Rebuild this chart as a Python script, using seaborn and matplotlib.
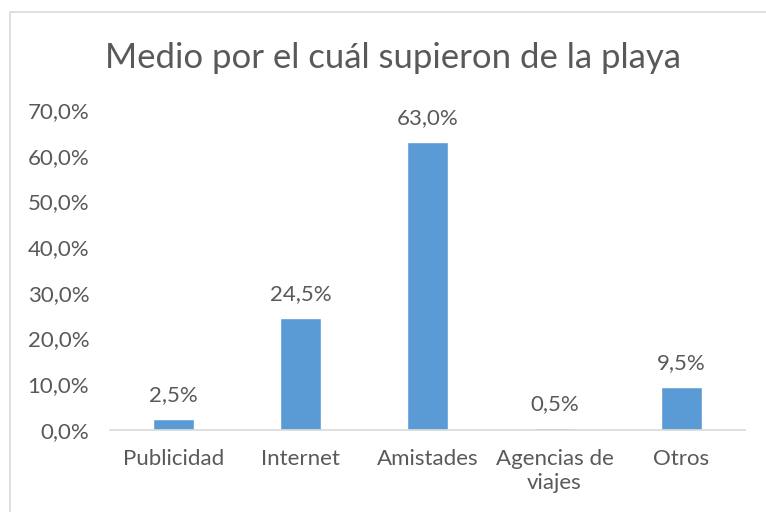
import matplotlib
matplotlib.use("Agg")
import matplotlib.pyplot as plt
import seaborn as sns
import pandas as pd
from matplotlib.patches import Rectangle
from matplotlib.ticker import FuncFormatter

# Data
categorias = ["Publicidad", "Internet", "Amistades", "Agencias de\nviajes", "Otros"]
porcentajes = [0.025, 0.245, 0.630, 0.005, 0.095]
titulo = "Medio por el cuál supieron de la playa"

df = pd.DataFrame({"medio": categorias, "pct": porcentajes})

sns.set_style("white")
plt.rcParams["font.family"] = ["Lato", "DejaVu Sans"]

texto = "#595959"
azul = "#5B9BD5"

fig = plt.figure(figsize=(7.66, 5.12), dpi=100)
ax = fig.add_axes([110 / 766, 82 / 512, 635 / 766, 320 / 512])

sns.barplot(data=df, x="medio", y="pct", color=azul, width=0.315,
            saturation=1, ax=ax)

ax.set_ylim(0, 0.7)
ax.set_yticks([i / 10 for i in range(8)])
ax.yaxis.set_major_formatter(FuncFormatter(lambda v, p: f"{v*100:.1f}%".replace(".", ",")))
ax.set_xlabel("")
ax.set_ylabel("")

for s in ["top", "right", "left"]:
    ax.spines[s].set_visible(False)
ax.spines["bottom"].set_color("#D9D9D9")
ax.spines["bottom"].set_linewidth(1.2)
ax.tick_params(axis="both", length=0, labelsize=16, colors=texto)
ax.tick_params(axis="x", pad=14)
ax.tick_params(axis="y", pad=15)
for lab in ax.get_xticklabels():
    lab.set_linespacing(1.25)

for i, v in enumerate(porcentajes):
    ax.annotate(f"{v*100:.1f}%".replace(".", ","), (i, v), xytext=(0, 10),
                textcoords="offset points", ha="center", va="bottom",
                fontsize=16, color=texto)

fig.text(393 / 766, 1 - 58 / 512, titulo, ha="center", va="center",
         fontsize=25, color=texto)

# outer chart border
fig.patches.append(Rectangle((10 / 766, -0.1), 1.2, 1 - 12 / 512 + 0.1,
                             transform=fig.transFigure, fill=False,
                             edgecolor="#D9D9D9", linewidth=1.2))

fig.savefig("out.png", dpi=100, facecolor="white")
